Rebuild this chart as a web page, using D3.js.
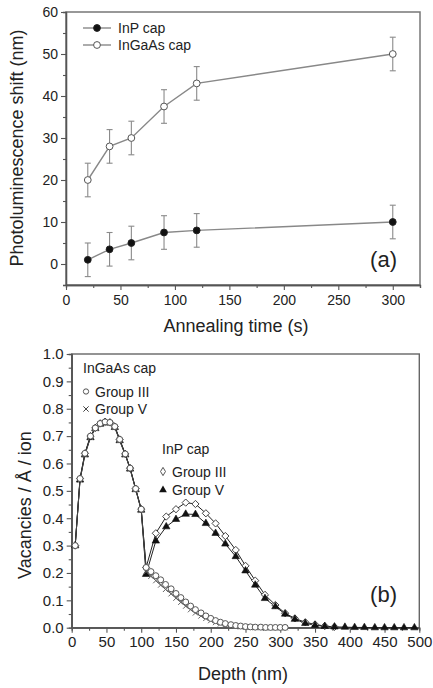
<!DOCTYPE html>
<html>
<head>
<meta charset="utf-8">
<script src="https://cdn.jsdelivr.net/npm/d3@7"></script>
<style>
  html, body { margin: 0; padding: 0; background: #fff; }
  svg { display: block; }
  text { font-family: "Liberation Sans", Arial, sans-serif; fill: #222; }
</style>
</head>
<body>
<svg id="chart" width="433" height="688"></svg>
<script>
// ---------- Panel (a) data ----------
const annealTime = [20, 40, 60, 90, 120, 300];
const inpShift = [1, 3.5, 5, 7.5, 8, 10];
const inpErr = [4, 4, 4, 4, 4, 4];
const ingaasShift = [20, 28, 30, 37.5, 43, 50];
const ingaasErr = [4, 4, 4, 4, 4, 4];
const timeTicks = [0, 50, 100, 150, 200, 250, 300];
const shiftTicks = [0, 10, 20, 30, 40, 50, 60];
const legendA = ["InP cap", "InGaAs cap"];

// ---------- Panel (b) data ----------
const ingaasDepth = [5, 12, 19, 27, 34, 41, 48, 55, 62, 69, 77, 84, 92, 100,
  107, 114, 121, 128, 135, 143, 150, 157, 164, 171, 178, 186, 193, 200, 207, 214,
  221, 229, 236, 243, 250, 257, 264, 272, 279, 286, 293, 300, 307];
const ingaasGroupIII = [0.30, 0.545, 0.637, 0.70, 0.73, 0.746, 0.752, 0.75, 0.735, 0.688, 0.635, 0.583, 0.508, 0.433,
  0.22, 0.205, 0.19, 0.175, 0.158, 0.142, 0.125, 0.11, 0.094, 0.079, 0.066, 0.054, 0.043, 0.034, 0.026, 0.02,
  0.015, 0.011, 0.008, 0.006, 0.004, 0.003, 0.002, 0.002, 0.001, 0.001, 0.001, 0.001, 0.001];
const ingaasGroupV = [0.30, 0.54, 0.632, 0.695, 0.728, 0.744, 0.75, 0.748, 0.732, 0.684, 0.632, 0.58, 0.505, 0.43,
  0.205, 0.188, 0.172, 0.156, 0.14, 0.124, 0.108, 0.093, 0.079, 0.066, 0.054, 0.043, 0.034, 0.026, 0.019, 0.014,
  0.01, 0.007, 0.005, 0.003, 0.002, 0.001, 0.001, 0, 0, 0, 0, 0, 0];

const inpDepthIII = [5, 12, 19, 27, 34, 41, 48, 55, 62, 69, 77, 84, 92, 100,
  107, 121, 136, 150, 164, 178, 193, 207, 221, 236, 250, 264, 278, 293, 307, 321, 336, 350, 364, 378];
const inpGroupIII = [0.30, 0.545, 0.637, 0.70, 0.73, 0.746, 0.752, 0.75, 0.735, 0.688, 0.635, 0.583, 0.508, 0.433,
  0.22, 0.345, 0.406, 0.433, 0.457, 0.452, 0.418, 0.381, 0.335, 0.284, 0.226, 0.172, 0.12, 0.083, 0.053, 0.034,
  0.02, 0.012, 0.006, 0.003];
const inpDepthV = [5, 12, 19, 27, 34, 41, 48, 55, 62, 69, 77, 84, 92, 100,
  107, 121, 136, 150, 164, 178, 193, 207, 221, 236, 250, 264, 278, 293, 307, 321, 336, 350, 364, 378,
  393, 407, 421, 436, 450, 464, 478, 493];
const inpGroupV = [0.30, 0.54, 0.632, 0.695, 0.728, 0.744, 0.75, 0.748, 0.732, 0.684, 0.632, 0.58, 0.505, 0.43,
  0.195, 0.317, 0.369, 0.396, 0.415, 0.414, 0.381, 0.345, 0.306, 0.26, 0.208, 0.156, 0.107, 0.077, 0.05, 0.031,
  0.016, 0.009, 0.005, 0.003, 0.002, 0.001, 0.001, 0, 0, 0, 0, 0];

const depthTicks = [0, 50, 100, 150, 200, 250, 300, 350, 400, 450, 500];
const vacTicks = [0, 0.1, 0.2, 0.3, 0.4, 0.5, 0.6, 0.7, 0.8, 0.9, 1.0];

// ---------- Drawing ----------
const svg = d3.select("#chart");
const axisColor = "#555";

function styleAxis(g, fontSize) {
  g.select(".domain").attr("stroke", axisColor).attr("stroke-width", 1.3);
  g.selectAll(".tick line").attr("stroke", axisColor).attr("stroke-width", 1.1);
  g.selectAll(".tick text").attr("font-size", fontSize).attr("fill", "#222")
    .attr("font-family", '"Liberation Sans", Arial, sans-serif');
}

// ===== Panel (a) =====
const xA = d3.scaleLinear().domain([0, 325]).range([66, 420]);
const yA = d3.scaleLinear().domain([-5, 60]).range([285, 12]);

svg.append("rect").attr("x", xA(0)).attr("y", yA(60))
  .attr("width", xA(325) - xA(0)).attr("height", yA(-5) - yA(60))
  .attr("fill", "none").attr("stroke", "#777").attr("stroke-width", 1.5);

svg.append("g").attr("transform", `translate(0,${yA(-5)})`)
  .call(d3.axisBottom(xA).tickValues(d3.range(25, 326, 50)).tickSize(3).tickFormat(""))
  .call(g => styleAxis(g, 14));
svg.append("g").attr("transform", `translate(${xA(0)},0)`)
  .call(d3.axisLeft(yA).tickValues(d3.range(-5, 61, 10)).tickSize(3).tickFormat(""))
  .call(g => styleAxis(g, 14));
svg.append("g").attr("transform", `translate(0,${yA(-5)})`)
  .call(d3.axisBottom(xA).tickValues(timeTicks).tickSize(5).tickSizeOuter(0).tickPadding(5))
  .call(g => styleAxis(g, 14));
svg.append("g").attr("transform", `translate(${xA(0)},0)`)
  .call(d3.axisLeft(yA).tickValues(shiftTicks).tickSize(5).tickSizeOuter(0).tickPadding(3))
  .call(g => styleAxis(g, 14));

function drawSeriesA(vals, errs, filled) {
  const pts = annealTime.map((t, i) => ({ t, v: vals[i], e: errs[i] }));
  const eb = svg.append("g").attr("stroke", "#8a8a8a").attr("stroke-width", 1.1);
  pts.forEach(p => {
    eb.append("line").attr("x1", xA(p.t)).attr("x2", xA(p.t)).attr("y1", yA(p.v - p.e)).attr("y2", yA(p.v + p.e));
    eb.append("line").attr("x1", xA(p.t) - 3).attr("x2", xA(p.t) + 3).attr("y1", yA(p.v - p.e)).attr("y2", yA(p.v - p.e));
    eb.append("line").attr("x1", xA(p.t) - 3).attr("x2", xA(p.t) + 3).attr("y1", yA(p.v + p.e)).attr("y2", yA(p.v + p.e));
  });
  svg.append("path").datum(pts)
    .attr("d", d3.line().x(d => xA(d.t)).y(d => yA(d.v)))
    .attr("fill", "none").attr("stroke", "#888").attr("stroke-width", 1.4);
  svg.append("g").selectAll("circle").data(pts).join("circle")
    .attr("cx", d => xA(d.t)).attr("cy", d => yA(d.v)).attr("r", 3.4)
    .attr("fill", filled ? "#111" : "#fff").attr("stroke", filled ? "#222" : "#555").attr("stroke-width", 1);
}
drawSeriesA(inpShift, inpErr, true);
drawSeriesA(ingaasShift, ingaasErr, false);

legendA.forEach((name, i) => {
  const y = 28 + i * 17;
  svg.append("line").attr("x1", 83).attr("x2", 111).attr("y1", y).attr("y2", y)
    .attr("stroke", "#888").attr("stroke-width", 1.4);
  svg.append("circle").attr("cx", 97).attr("cy", y).attr("r", 3.4)
    .attr("fill", i === 0 ? "#111" : "#fff").attr("stroke", i === 0 ? "#222" : "#555");
  svg.append("text").attr("x", 118).attr("y", y + 5).attr("font-size", 14).text(name);
});

svg.append("text").attr("x", 397).attr("y", 267).attr("text-anchor", "end")
  .attr("font-size", 22).text("(a)");
svg.append("text").attr("x", 236).attr("y", 332).attr("text-anchor", "middle")
  .attr("font-size", 18).text("Annealing time (s)");
svg.append("text").attr("transform", "translate(23,148) rotate(-90)")
  .attr("text-anchor", "middle").attr("font-size", 18).text("Photoluminescence shift (nm)");

// ===== Panel (b) =====
const xB = d3.scaleLinear().domain([0, 500]).range([71.7, 419.3]);
const yB = d3.scaleLinear().domain([0, 1]).range([627.7, 354]);

svg.append("rect").attr("x", xB(0)).attr("y", yB(1))
  .attr("width", xB(500) - xB(0)).attr("height", yB(0) - yB(1))
  .attr("fill", "none").attr("stroke", "#666").attr("stroke-width", 1.4);

svg.append("g").attr("transform", `translate(0,${yB(0)})`)
  .call(d3.axisBottom(xB).tickValues(d3.range(25, 500, 50)).tickSize(3).tickFormat(""))
  .call(g => styleAxis(g, 15));
svg.append("g").attr("transform", `translate(${xB(0)},0)`)
  .call(d3.axisLeft(yB).tickValues(d3.range(0.05, 1, 0.1)).tickSize(3).tickFormat(""))
  .call(g => styleAxis(g, 15));
svg.append("g").attr("transform", `translate(0,${yB(0)})`)
  .call(d3.axisBottom(xB).tickValues(depthTicks).tickSize(5).tickSizeOuter(0).tickPadding(4))
  .call(g => styleAxis(g, 15));
svg.append("g").attr("transform", `translate(${xB(0)},0)`)
  .call(d3.axisLeft(yB).tickValues(vacTicks).tickSize(5).tickSizeOuter(0).tickPadding(3).tickFormat(d3.format(".1f")))
  .call(g => styleAxis(g, 15));

function diamond(ratio) {
  return {
    draw(ctx, size) {
      const r = Math.sqrt(size / 2);
      ctx.moveTo(0, -r); ctx.lineTo(r * ratio, 0); ctx.lineTo(0, r); ctx.lineTo(-r * ratio, 0); ctx.closePath();
    }
  };
}

function seriesB(depths, vals) { return depths.map((d, i) => ({ d, v: vals[i] })); }
const sInpIII = seriesB(inpDepthIII, inpGroupIII);
const sInpV = seriesB(inpDepthV, inpGroupV);
const sGaIII = seriesB(ingaasDepth, ingaasGroupIII);
const sGaV = seriesB(ingaasDepth, ingaasGroupV);

const lineB = d3.line().x(p => xB(p.d)).y(p => yB(p.v));
[sInpIII, sInpV, sGaIII, sGaV].forEach((s, i) => {
  svg.append("path").datum(s).attr("d", lineB).attr("fill", "none")
    .attr("stroke", i === 3 ? "#444" : "#222").attr("stroke-width", 1);
});

function markers(s, type, size, fill, stroke, sw) {
  svg.append("g").selectAll("path").data(s).join("path")
    .attr("transform", p => `translate(${xB(p.d)},${yB(p.v)})`)
    .attr("d", d3.symbol().type(type).size(size))
    .attr("fill", fill).attr("stroke", stroke).attr("stroke-width", sw);
}
markers(sInpIII, diamond(1), 26, "#fff", "#444", 1);
markers(sInpV, d3.symbolTriangle, 24, "#111", "#111", 0.6);
markers(sGaV, d3.symbolX, 20, "none", "#666", 1);
markers(sGaIII, d3.symbolCircle, 28, "#fff", "#555", 1);

// legend (b)
svg.append("text").attr("x", 83).attr("y", 373).attr("font-size", 14).text("InGaAs cap");
svg.append("path").attr("transform", "translate(86,391.5)")
  .attr("d", d3.symbol().type(d3.symbolCircle).size(22)).attr("fill", "#fff").attr("stroke", "#555");
svg.append("text").attr("x", 95).attr("y", 396.5).attr("font-size", 14).text("Group III");
svg.append("path").attr("transform", "translate(86,409)")
  .attr("d", d3.symbol().type(d3.symbolX).size(20)).attr("fill", "none").attr("stroke", "#444").attr("stroke-width", 1);
svg.append("text").attr("x", 95).attr("y", 413.5).attr("font-size", 14).text("Group V");

svg.append("text").attr("x", 162).attr("y", 454).attr("font-size", 14).text("InP cap");
svg.append("path").attr("transform", "translate(163,471.5)")
  .attr("d", d3.symbol().type(diamond(0.6)).size(34)).attr("fill", "#fff").attr("stroke", "#555");
svg.append("text").attr("x", 172).attr("y", 476.5).attr("font-size", 14).text("Group III");
svg.append("path").attr("transform", "translate(163,490)")
  .attr("d", d3.symbol().type(d3.symbolTriangle).size(26)).attr("fill", "#111");
svg.append("text").attr("x", 172).attr("y", 495).attr("font-size", 14).text("Group V");

svg.append("text").attr("x", 397).attr("y", 602).attr("text-anchor", "end")
  .attr("font-size", 22).text("(b)");
svg.append("text").attr("x", 243).attr("y", 680).attr("text-anchor", "middle")
  .attr("font-size", 18).text("Depth (nm)");
svg.append("text").attr("transform", "translate(31,505) rotate(-90)")
  .attr("text-anchor", "middle").attr("font-size", 18).text("Vacancies / Å / ion");
</script>
</body>
</html>
